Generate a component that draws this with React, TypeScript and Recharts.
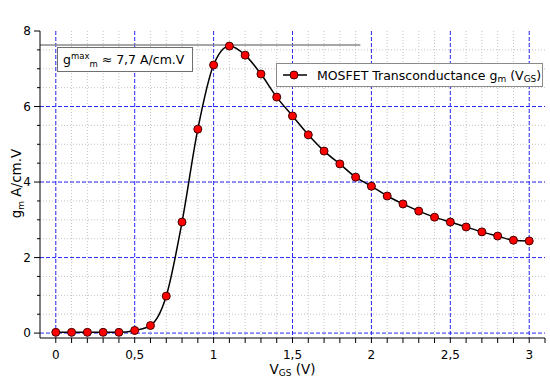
import React from 'react';
import { ComposedChart, Line, XAxis, YAxis, CartesianGrid, ReferenceLine, Legend } from 'recharts';

// ---- data ----
const vgsValues = [0, 0.1, 0.2, 0.3, 0.4, 0.5, 0.6, 0.7, 0.8, 0.9, 1.0, 1.1, 1.2, 1.3, 1.4, 1.5, 1.6, 1.7, 1.8, 1.9, 2.0, 2.1, 2.2, 2.3, 2.4, 2.5, 2.6, 2.7, 2.8, 2.9, 3.0];
const gmValues = [0.02, 0.02, 0.02, 0.02, 0.02, 0.07, 0.2, 0.98, 2.94, 5.4, 7.1, 7.6, 7.36, 6.86, 6.25, 5.75, 5.25, 4.82, 4.48, 4.13, 3.89, 3.63, 3.42, 3.23, 3.07, 2.94, 2.81, 2.68, 2.57, 2.46, 2.44];

// ---- ticks ----
const xAxisTicks = [0, 0.1, 0.2, 0.3, 0.4, 0.5, 0.6, 0.7, 0.8, 0.9, 1, 1.1, 1.2, 1.3, 1.4, 1.5, 1.6, 1.7, 1.8, 1.9, 2, 2.1, 2.2, 2.3, 2.4, 2.5, 2.6, 2.7, 2.8, 2.9, 3, 3.1];
const xMinorGrid = [0, 0.1, 0.2, 0.3, 0.4, 0.5, 0.6, 0.7, 0.8, 0.9, 1, 1.1, 1.2, 1.3, 1.4, 1.5, 1.6, 1.7, 1.8, 1.9, 2, 2.1, 2.2, 2.3, 2.4, 2.5, 2.6, 2.7, 2.8, 2.9, 3];
const xMajorGrid = [0, 0.5, 1, 1.5, 2, 2.5, 3];
const yAxisTicks = [0, 0.5, 1, 1.5, 2, 2.5, 3, 3.5, 4, 4.5, 5, 5.5, 6, 6.5, 7, 7.5, 8];
const yLabelTicks = [0, 2, 4, 6, 8];
const yMinorGrid = [0.5, 1, 1.5, 2, 2.5, 3, 3.5, 4, 4.5, 5, 5.5, 6, 6.5, 7, 7.5];
const yMajorGrid = [0, 2, 4, 6];

const xDomain = [-0.1, 3.1];
const yDomain = [-0.13, 8];

const gmaxLevel = 7.63;
const gmaxLineStart = -0.1;
const gmaxLineEnd = 1.93;

const seriesName = 'MOSFET Transconductance';

const data = vgsValues.map((v, i) => ({ v, gm: gmValues[i] }));

const FONT = '"DejaVu Sans", Verdana, sans-serif';

const isMajorX = (v: number) => Math.abs(v * 2 - Math.round(v * 2)) < 1e-6 && v >= 0 && v <= 3.0001;
const fmtX = (v: number) => (isMajorX(v) ? String(Math.round(v * 10) / 10).replace('.', ',') : '');

const YTick = (props: any) => {
  const { x, y, payload } = props;
  const v = payload.value;
  const major = yLabelTicks.includes(v);
  return (
    <g>
      <line x1={x - (major ? 6 : 3)} x2={x} y1={y} y2={y} stroke="#000" strokeWidth={1} />
      {major && (
        <text x={x - 9} y={y} dy="0.36em" textAnchor="end" fontSize={12} fontFamily={FONT} fill="#000">
          {v}
        </text>
      )}
    </g>
  );
};

const YLabel = (props: any) => {
  const vb = props.viewBox;
  const cx = vb.x + 21;
  const cy = vb.y + vb.height / 2 - 1;
  return (
    <text x={cx} y={cy} transform={`rotate(-90, ${cx}, ${cy})`} textAnchor="middle" fontSize={13.5} fontFamily={FONT} fill="#000">
      <tspan>g</tspan>
      <tspan fontSize={9} dy={3}>m</tspan>
      <tspan dy={-3}> A/cm.V</tspan>
    </text>
  );
};

const XLabel = (props: any) => {
  const vb = props.viewBox;
  const cx = vb.x + vb.width / 2;
  const by = vb.y + 36;
  return (
    <text x={cx} y={by} textAnchor="middle" fontSize={13.5} fontFamily={FONT} fill="#000">
      <tspan>V</tspan>
      <tspan fontSize={9} dy={2}>GS</tspan>
      <tspan dy={-2}> (V)</tspan>
    </text>
  );
};

const LegendContent = (props: any) => {
  const item = (props.payload && props.payload[0]) || { color: '#000' };
  return (
    <div
      style={{
        width: 265,
        height: 22,
        border: '1.5px solid #8a8a8a',
        background: '#fff',
        display: 'flex',
        alignItems: 'center',
        fontFamily: FONT,
        fontSize: 12.5,
        color: '#000',
        boxSizing: 'content-box',
        whiteSpace: 'nowrap',
      }}
    >
      <svg width={36} height={22} style={{ marginLeft: 4 }}>
        <line x1={2} x2={26} y1={11} y2={11} stroke={item.color || '#000'} strokeWidth={1.5} />
        <circle cx={13} cy={11} r={4} fill="#ff0000" stroke="#400" strokeWidth={1} />
      </svg>
      <span>
        {seriesName} g<span style={{ fontSize: 9, position: 'relative', top: 2 }}>m</span> (V
        <span style={{ fontSize: 9, position: 'relative', top: 2 }}>GS</span>)
      </span>
    </div>
  );
};

export default function App() {
  return (
    <div style={{ position: 'absolute', left: 0, top: 0, width: 550, height: 384, background: '#fff' }}>
      <ComposedChart width={550} height={384} data={data} margin={{ top: 31, right: 5, bottom: 0, left: 0 }}>
        <XAxis
          xAxisId="main"
          dataKey="v"
          type="number"
          domain={xDomain}
          ticks={xAxisTicks}
          interval={0}
          allowDataOverflow
          tickFormatter={fmtX}
          tickSize={5}
          tickMargin={7}
          height={46}
          stroke="#000"
          tick={{ fill: '#000', fontSize: 12, fontFamily: FONT }}
          label={XLabel}
        />
        <YAxis
          yAxisId="main"
          type="number"
          domain={yDomain}
          ticks={yAxisTicks}
          interval={0}
          allowDataOverflow
          width={40}
          tickSize={0}
          tickMargin={0}
          tickLine={false}
          stroke="#000"
          tick={<YTick />}
          label={YLabel}
        />
        {/* hidden axes used only for grid lines */}
        <XAxis xAxisId="gMinor" dataKey="v" type="number" domain={xDomain} ticks={xMinorGrid} interval={0} hide height={0} allowDataOverflow />
        <XAxis xAxisId="gMajor" dataKey="v" type="number" domain={xDomain} ticks={xMajorGrid} interval={0} hide height={0} allowDataOverflow />
        <YAxis yAxisId="gMinor" dataKey="gm" type="number" domain={yDomain} ticks={yMinorGrid} interval={0} hide width={0} allowDataOverflow />
        <YAxis yAxisId="gMajor" dataKey="gm" type="number" domain={yDomain} ticks={yMajorGrid} interval={0} hide width={0} allowDataOverflow />
        <CartesianGrid xAxisId="gMinor" yAxisId="gMinor" syncWithTicks stroke="#c4c4c4" strokeDasharray="1 2" />
        <CartesianGrid xAxisId="gMajor" yAxisId="gMajor" syncWithTicks stroke="#2a2aff" strokeDasharray="4 2" />

        <ReferenceLine
          xAxisId="main"
          yAxisId="main"
          segment={[{ x: gmaxLineStart, y: gmaxLevel }, { x: gmaxLineEnd, y: gmaxLevel }]}
          stroke="#8a8a8a"
          strokeWidth={1.5}
          ifOverflow="visible"
        />

        <Line
          xAxisId="main"
          yAxisId="main"
          dataKey="gm"
          name={seriesName}
          type="monotone"
          stroke="#000"
          strokeWidth={1.5}
          dot={{ r: 4, fill: '#ff0000', stroke: '#400', strokeWidth: 1 }}
          activeDot={false}
          isAnimationActive={false}
        />

        <Legend
          layout="horizontal"
          verticalAlign="middle"
          align="center"
          content={<LegendContent />}
          wrapperStyle={{ left: 276, top: 63, width: 'auto', height: 'auto' }}
        />
      </ComposedChart>

      <div
        style={{
          position: 'absolute',
          left: 57,
          top: 47,
          width: 129,
          height: 23,
          border: '1.5px solid #707070',
          background: '#fff',
          fontFamily: FONT,
          fontSize: 12.5,
          color: '#000',
          display: 'flex',
          alignItems: 'center',
          paddingLeft: 5,
          boxSizing: 'content-box',
          whiteSpace: 'nowrap',
        }}
      >
        <span>
          g<span style={{ fontSize: 8.5, position: 'relative', top: -5 }}>max</span>
          <span style={{ fontSize: 8.5, position: 'relative', top: 3 }}>m</span> ≈ 7,7 A/cm.V
        </span>
      </div>
    </div>
  );
}
